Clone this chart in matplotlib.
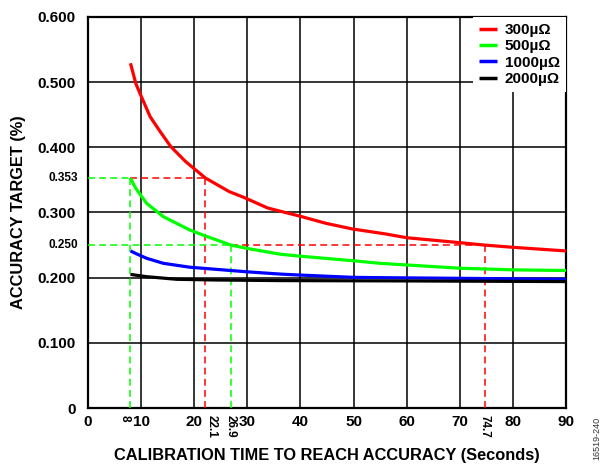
import matplotlib
matplotlib.use("Agg")
import matplotlib.pyplot as plt
import matplotlib.transforms as mtransforms

plt.rcParams['font.family'] = ['Liberation Sans', 'DejaVu Sans']
plt.rcParams['font.weight'] = 'bold'

# Calibration time (s) vs accuracy target (%) for each shunt resistance
t_300 = [8, 9.0, 9.8, 11.7, 13.6, 15.6, 18.4, 22.1, 26.6, 29.4, 33.8, 37.3, 39.8,
         44.8, 49.8, 56.1, 60, 70, 74.7, 80, 90]
acc_300 = [0.529, 0.498, 0.4825, 0.447, 0.424, 0.401, 0.378, 0.353, 0.332, 0.323,
           0.307, 0.2997, 0.2946, 0.2834, 0.2747, 0.267, 0.2613, 0.2537, 0.250,
           0.2466, 0.241]

t_500 = [8, 8.5, 9.0, 11.05, 14.2, 19.2, 22.1, 26.9, 29.9, 36.2, 39.9, 49.9, 55,
         70, 80, 90]
acc_500 = [0.353, 0.3445, 0.337, 0.314, 0.2935, 0.273, 0.264, 0.250, 0.245, 0.236,
           0.233, 0.226, 0.222, 0.2145, 0.212, 0.211]

t_1000 = [8, 9.2, 11.05, 14.2, 19.2, 29.9, 36.2, 39.9, 49.9, 55, 70, 90]
acc_1000 = [0.241, 0.2363, 0.2297, 0.222, 0.216, 0.209, 0.2055, 0.204, 0.2005,
            0.200, 0.199, 0.1975]

t_2000 = [8, 11.05, 16.7, 23.5, 36.2, 60, 90]
acc_2000 = [0.205, 0.2015, 0.1975, 0.1965, 0.1955, 0.195, 0.194]

series_labels = ['300µΩ', '500µΩ', '1000µΩ', '2000µΩ']
series_colors = ['#FF0000', '#00FF00', '#0000FF', '#000000']

# Highlighted operating points: times (s) and accuracy targets (%)
mark_times = [8, 22.1, 26.9, 74.7]
mark_accs = [0.353, 0.250]

x_ticks = [0, 10, 20, 30, 40, 50, 60, 70, 80, 90]
x_ticklabels = ['0', '10', '20', '30', '40', '50', '60', '70', '80', '90']
y_ticks = [0, 0.1, 0.2, 0.3, 0.4, 0.5, 0.6]
y_ticklabels = ['0', '0.100', '0.200', '0.300', '0.400', '0.500', '0.600']

fig = plt.figure(figsize=(6.03, 4.65), dpi=100)
ax = fig.add_axes([88 / 603, 1 - 408 / 465, (566 - 88) / 603, (408 - 17) / 465])

ax.set_xlim(0, 90)
ax.set_ylim(0, 0.6)
ax.set_xticks(x_ticks)
ax.set_xticklabels(x_ticklabels, fontsize=11, fontweight='bold')
ax.set_yticks(y_ticks)
ax.set_yticklabels(y_ticklabels, fontsize=11, fontweight='bold')
ax.tick_params(axis='y', length=0, pad=9)
ax.tick_params(axis='x', length=0, pad=5)
ax.grid(True, color='black', linewidth=1.1)
ax.set_axisbelow(True)
for s in ax.spines.values():
    s.set_linewidth(1.6)
    s.set_color('black')

dash = dict(linewidth=1.1, dashes=(4.5, 2.8), zorder=3)
g, r = '#00FF00', '#FF0000'
# guides at 0.353 %
ax.plot([0, mark_times[0]], [mark_accs[0]] * 2, color=g, **dash)
ax.plot([mark_times[0], mark_times[1]], [mark_accs[0]] * 2, color=r, **dash)
ax.plot([mark_times[0]] * 2, [0, mark_accs[0]], color=g, **dash)
ax.plot([mark_times[1]] * 2, [0, mark_accs[0]], color=r, **dash)
# guides at 0.250 %
ax.plot([0, mark_times[2]], [mark_accs[1]] * 2, color=g, **dash)
ax.plot([mark_times[2], mark_times[3]], [mark_accs[1]] * 2, color=r, **dash)
ax.plot([mark_times[2]] * 2, [0, mark_accs[1]], color=g, **dash)
ax.plot([mark_times[3]] * 2, [0, mark_accs[1]], color=r, **dash)

for (t, a), lab, c in zip([(t_300, acc_300), (t_500, acc_500),
                          (t_1000, acc_1000), (t_2000, acc_2000)],
                         series_labels, series_colors):
    ax.plot(t, a, color=c, linewidth=2.3, label=lab, zorder=4,
            solid_capstyle='butt', solid_joinstyle='round')

leg = ax.legend(loc='upper right', frameon=True, fancybox=False,
                framealpha=1, edgecolor='white', handlelength=1.2,
                handletextpad=0.5, borderpad=0.4, labelspacing=0.15,
                borderaxespad=0.0, prop={'weight': 'bold', 'size': 11})
leg.get_frame().set_linewidth(0)
for h in leg.get_lines():
    h.set_linewidth(2.5)

# small labels for the highlighted values
ytr = mtransforms.blended_transform_factory(ax.transAxes, ax.transData)
for v in mark_accs:
    ax.text(-0.021, v, f'{v:.3f}', transform=ytr, ha='right', va='center',
            fontsize=8.5, fontweight='bold')
xtr = mtransforms.blended_transform_factory(ax.transData, ax.transAxes)
align = {8: 'right', 22.1: 'left', 26.9: 'center', 74.7: 'center'}
for v in mark_times:
    ax.text(v, -0.018, f'{v:g}', transform=xtr, ha=align[v], va='top',
            rotation=-90, fontsize=8.5, fontweight='bold')

ax.set_xlabel('CALIBRATION TIME TO REACH ACCURACY (Seconds)', fontsize=11.8,
              fontweight='bold', labelpad=14)
ax.set_ylabel('ACCURACY TARGET (%)', fontsize=11.8, fontweight='bold',
              labelpad=8)

fig.text(597 / 603, 1 - 438 / 465, '16519-240', rotation=90, fontsize=6.5,
         ha='center', va='center', color='#333333', fontweight='normal')

fig.savefig('out.png', dpi=100)
